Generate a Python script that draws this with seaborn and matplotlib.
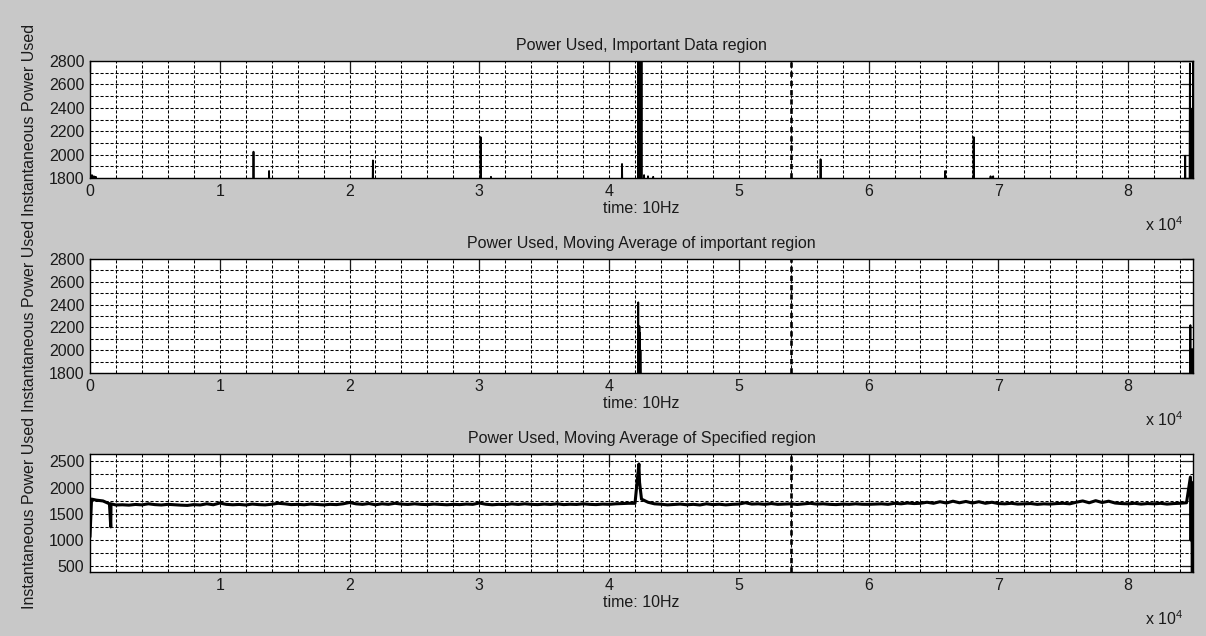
import numpy as np
import pandas as pd
import matplotlib
matplotlib.use('Agg')
import matplotlib.pyplot as plt
from matplotlib.ticker import MultipleLocator, FuncFormatter
import seaborn as sns

# --- data (time in samples at 10Hz, power in W) ---
# top panel: baseline sits below the visible range, only spikes show
top_base = 1700
top_spike_t = [0, 150, 300, 450, 12600, 13800, 21800, 30100, 30900, 41000,
               42250, 42300, 42350, 42420, 42500, 42700, 43000, 43400,
               56300, 65900, 68100, 69400, 69600,
               84400, 84760, 84820, 84870, 84920, 84960, 85000]
top_spike_p = [1840, 1825, 1815, 1810, 2025, 1860, 1950, 2150, 1810, 1920,
               3000, 2700, 3000, 3000, 2950, 1825, 1815, 1810,
               1960, 1860, 2150, 1815, 1815,
               1990, 2780, 2080, 2390, 2060, 2070, 3000]

# middle panel: moving average, again mostly below range
mid_base = 1690
mid_spike_t = [42250, 42300, 42340, 42380, 42420, 84800, 84880, 84950, 85000]
mid_spike_p = [2420, 2200, 2210, 2150, 2000, 2220, 2000, 2010, 2000]

# bottom panel: moving average of specified region, one value every 500 samples
spec_t = np.arange(0, 85001, 500)
spec_p = [1060, 1760, 1745, 1690, 1668, 1672, 1665, 1678, 1670, 1690,
          1675, 1668, 1680, 1672, 1665, 1660, 1675, 1668, 1690, 1672,
          1705, 1680, 1672, 1678, 1668, 1685, 1675, 1670, 1682, 1700,
          1690, 1675, 1680, 1672, 1685, 1678, 1670, 1680, 1675, 1690,
          1715, 1690, 1680, 1695, 1672, 1690, 1680, 1700, 1685, 1678,
          1690, 1680, 1675, 1685, 1678, 1672, 1680, 1675, 1685, 1680,
          1705, 1682, 1672, 1680, 1675, 1688, 1678, 1690, 1680, 1675,
          1685, 1678, 1690, 1675, 1682, 1678, 1690, 1680, 1675, 1685,
          1680, 1690, 1695, 1700, 1700, 1780, 1720, 1690, 1682, 1670,
          1678, 1685, 1672, 1680, 1668, 1690, 1675, 1682, 1670, 1680,
          1685, 1710, 1685, 1690, 1680, 1695, 1680, 1685, 1690, 1678,
          1690, 1700, 1685, 1690, 1680, 1675, 1685, 1680, 1690, 1682,
          1680, 1685, 1690, 1680, 1700, 1690, 1705, 1695, 1700, 1720,
          1700, 1730, 1705, 1740, 1710, 1735, 1705, 1730, 1700, 1720,
          1695, 1690, 1700, 1685, 1690, 1695, 1680, 1690, 1685, 1695,
          1700, 1690, 1720, 1745, 1710, 1750, 1715, 1740, 1705, 1695,
          1690, 1700, 1685, 1695, 1690, 1700, 1685, 1695, 1700, 1710,
          1700]
# short events between the 500-sample readings
spec_event_t = [120, 1600, 1620, 42300, 42350, 42420, 42480, 84800, 84850, 84900, 84950, 84990]
spec_event_p = [1780, 1250, 1690, 2450, 2100, 1950, 1820, 2200, 1000, 2100, 390, 1800]

split_t = 54000
titles = ['Power Used, Important Data region',
          'Power Used, Moving Average of important region',
          'Power Used, Moving Average of Specified region']


def spike_frame(ts, ps, base):
    rows = []
    for t, p in zip(ts, ps):
        rows += [(t - 25, base), (t, p), (t + 25, base)]
    return pd.DataFrame(rows, columns=['t', 'p'])


top_df = spike_frame(top_spike_t, top_spike_p, top_base)
mid_df = spike_frame(mid_spike_t, mid_spike_p, mid_base)
spec_df = pd.concat([pd.DataFrame({'t': spec_event_t, 'p': spec_event_p}),
                     pd.DataFrame({'t': spec_t, 'p': spec_p})])
spec_df = spec_df.sort_values('t', kind='stable')

sns.set_theme(style='white')
plt.rcParams['font.family'] = ['Liberation Sans', 'DejaVu Sans']
plt.rcParams['mathtext.fontset'] = 'custom'
plt.rcParams['mathtext.rm'] = 'Liberation Sans'
plt.rcParams['text.color'] = '#1a1a1a'
plt.rcParams['axes.labelcolor'] = '#1a1a1a'
plt.rcParams['xtick.color'] = '#1a1a1a'
plt.rcParams['ytick.color'] = '#1a1a1a'

fs = 11.5
bg = '#c8c8c8'
fig = plt.figure(figsize=(12.06, 6.36), dpi=100, facecolor=bg)

W, H = 1206, 636
boxes = [(61, 178), (259, 373), (454, 572)]  # top / bottom pixel rows of each axes
axes = []
for top, bot in boxes:
    ax = fig.add_axes([90 / W, 1 - bot / H, 1103 / W, (bot - top) / H])
    ax.set_facecolor('white')
    axes.append(ax)

frames = [top_df, mid_df, spec_df]
for i, (ax, df) in enumerate(zip(axes, frames)):
    sns.lineplot(data=df, x='t', y='p', ax=ax, color='black',
                 lw=1.3 if i < 2 else 2.2, estimator=None, sort=False)
    ax.axvline(split_t, color='black', lw=1.9, ls=(0, (2, 1.5)), zorder=1)

    if i < 2:
        ax.set_xlim(0, 85000)
        ax.set_ylim(1800, 2800)
        ax.yaxis.set_major_locator(MultipleLocator(200))
        ax.yaxis.set_minor_locator(MultipleLocator(100))
    else:
        ax.set_xlim(1, 85000)
        ax.set_ylim(390, 2640)
        ax.yaxis.set_major_locator(MultipleLocator(500))
        ax.yaxis.set_minor_locator(MultipleLocator(250))
    ax.xaxis.set_major_locator(MultipleLocator(10000))
    ax.xaxis.set_minor_locator(MultipleLocator(2000))
    ax.xaxis.set_major_formatter(FuncFormatter(lambda v, pos: '%g' % (v / 1e4)))

    ax.grid(True, which='both', color='black', lw=0.75, ls=(0, (3, 1.8)))
    ax.set_axisbelow(True)
    ax.tick_params(which='major', direction='in', top=True, right=True,
                   length=8, width=0.9, labelsize=fs, pad=4)
    ax.tick_params(which='minor', length=0)
    for s in ax.spines.values():
        s.set_color('black')
        s.set_linewidth(1.0)

    ax.set_title(titles[i], fontsize=fs, pad=8)
    ax.set_xlabel('time: 10Hz', fontsize=fs, labelpad=2)
    ax.set_ylabel('Instantaneous Power Used', fontsize=fs)
    ax.yaxis.set_label_coords(-0.048, 0.5)

for bot in [178, 373, 572]:
    fig.text(1183 / W, 1 - (bot + 53) / H, r'x 10$^{4}$', fontsize=fs,
             ha='right', va='baseline')

fig.savefig('out.png', dpi=100, facecolor=bg)
